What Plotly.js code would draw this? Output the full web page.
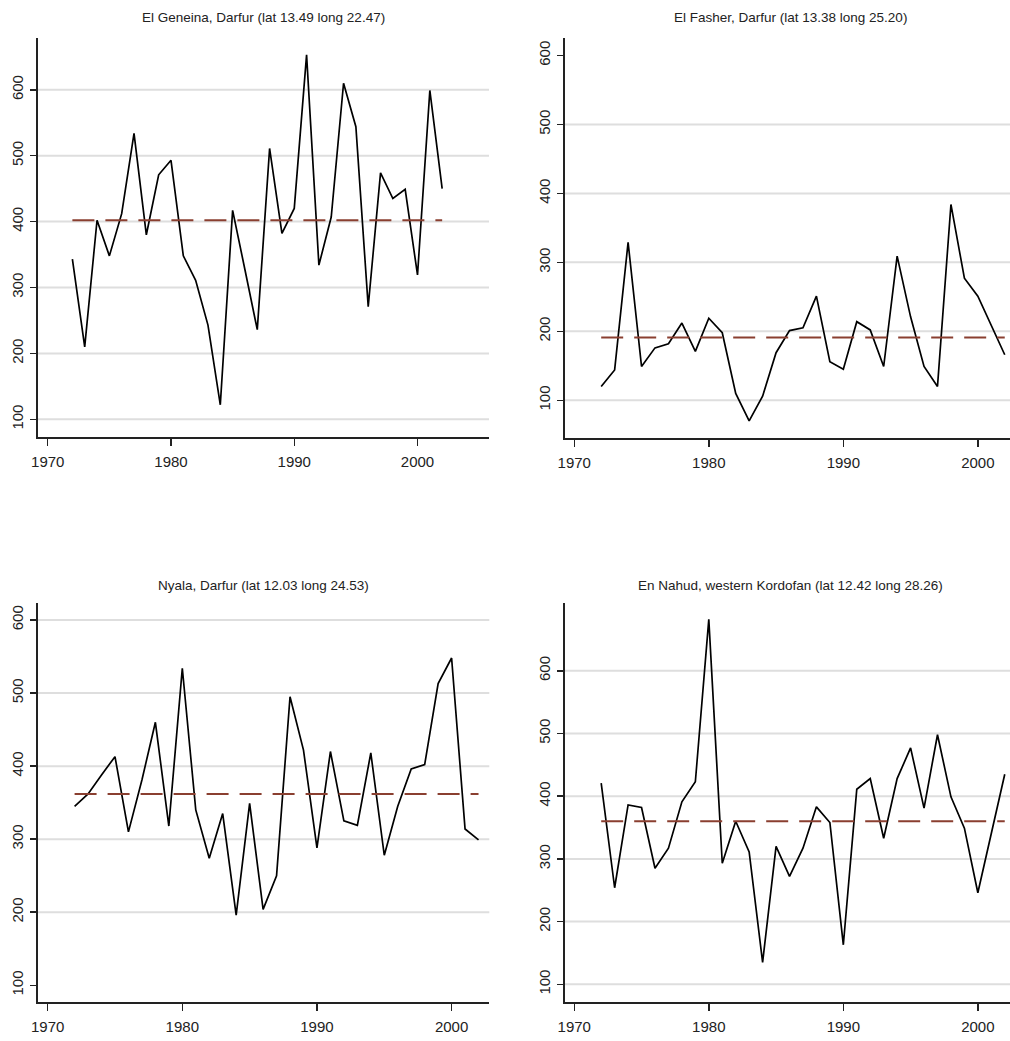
<!DOCTYPE html>
<html>
<head>
<meta charset="utf-8">
<script src="https://cdn.plot.ly/plotly-3.0.1.min.js"></script>
<style>
  html, body { margin: 0; padding: 0; background: #fff; }
  #chart { width: 1010px; height: 1041px; }
</style>
</head>
<body>
<div id="chart"></div>
<script>
// ---- data ----
const years = [1972,1973,1974,1975,1976,1977,1978,1979,1980,1981,1982,1983,1984,1985,1986,1987,
               1988,1989,1990,1991,1992,1993,1994,1995,1996,1997,1998,1999,2000,2001,2002];

const titles = [
  "El Geneina, Darfur (lat 13.49 long 22.47)",
  "El Fasher, Darfur (lat 13.38 long 25.20)",
  "Nyala, Darfur (lat 12.03 long 24.53)",
  "En Nahud, western Kordofan (lat 12.42 long 28.26)"
];

const elGeneina = [343,210,402,348,412,534,380,471,493,348,311,243,122,417,327,236,
                   511,382,420,653,334,407,610,544,271,474,435,449,319,599,450];
const elFasher  = [120,144,329,149,176,182,212,171,219,198,110,70,106,169,201,205,
                   251,156,145,214,202,149,309,221,149,120,384,277,251,209,166];
const nyala     = [345,362,388,413,310,381,460,318,534,340,274,335,196,349,204,250,
                   495,422,288,420,325,319,418,278,345,396,402,513,548,314,299];
const enNahud   = [421,254,386,382,285,317,391,423,682,293,360,311,135,320,272,317,
                   383,358,163,411,428,333,428,477,381,498,399,349,246,343,435];

const means = [402, 191, 362, 360];

const xTicks = [1970, 1980, 1990, 2000];
const yTicks = [100, 200, 300, 400, 500, 600];

// ---- layout geometry (pixels) ----
const W = 1010, H = 1041;
const panels = [
  {l: 38,  r: 489,  t: 38,   b: 436.7, xr: [1969.21, 2005.8], yr: [73.6, 678.6],  grid: [100,200,300,400,500,600], tx: 263, ty: 18},
  {l: 565, r: 1010, t: 38.3, b: 437.7, xr: [1969.31, 2002.39], yr: [45.7, 625],   grid: [100,200,300,400,500],     tx: 790, ty: 18},
  {l: 37.7,r: 489.3,t: 603.3,b: 1002.3, xr: [1969.26, 2002.8], yr: [76.7, 622.9], grid: [200,300,400,500,600],     tx: 263, ty: 585},
  {l: 565, r: 1010, t: 603.3,b: 1002.3, xr: [1969.31, 2002.39], yr: [71.3, 707.6], grid: [100,200,300,400,500,600], tx: 790, ty: 585}
];
const series = [elGeneina, elFasher, nyala, enNahud];

const traces = [];
const layout = {
  width: W, height: H,
  margin: {l: 0, r: 0, t: 0, b: 0, pad: 0},
  paper_bgcolor: '#ffffff',
  plot_bgcolor: '#ffffff',
  showlegend: false,
  shapes: [],
  annotations: []
};

const sans = "'Liberation Sans', Arial, sans-serif";

panels.forEach((p, i) => {
  const n = i === 0 ? '' : String(i + 1);
  const xa = 'x' + n, ya = 'y' + n;
  traces.push({
    x: years, y: series[i], xaxis: xa, yaxis: ya,
    type: 'scatter', mode: 'lines',
    line: {color: '#000000', width: 1.7},
    hoverinfo: 'skip'
  });
  traces.push({
    x: [years[0], years[years.length - 1]], y: [means[i], means[i]],
    xaxis: xa, yaxis: ya, type: 'scatter', mode: 'lines',
    line: {color: '#8a3f30', width: 2, dash: '22px,11px'},
    hoverinfo: 'skip'
  });
  layout['xaxis' + n] = {
    domain: [p.l / W, p.r / W],
    range: p.xr,
    anchor: ya,
    tickvals: xTicks,
    ticktext: xTicks.map(String),
    ticks: 'outside', ticklen: 7, tickwidth: 1.5, tickcolor: '#222',
    showline: true, linecolor: '#222', linewidth: 2,
    showgrid: false, zeroline: false,
    tickfont: {family: sans, size: 15, color: '#222'},
    ticklabelstandoff: 3,
    fixedrange: true
  };
  layout['yaxis' + n] = {
    domain: [1 - p.b / H, 1 - p.t / H],
    range: p.yr,
    anchor: xa,
    tickvals: yTicks,
    ticktext: yTicks.map(String),
    tickangle: -90,
    ticks: 'outside', ticklen: 6, tickwidth: 1.5, tickcolor: '#222',
    showline: true, linecolor: '#222', linewidth: 2,
    showgrid: false, zeroline: false,
    tickfont: {family: sans, size: 15, color: '#222'},
    ticklabelstandoff: 1,
    fixedrange: true
  };
  p.grid.forEach(g => {
    layout.shapes.push({
      type: 'line', layer: 'below',
      xref: xa + ' domain', yref: ya,
      x0: 0, x1: 1, y0: g, y1: g,
      line: {color: '#dedede', width: 2}
    });
  });
  layout.annotations.push({
    text: titles[i], xref: 'paper', yref: 'paper',
    x: p.tx / W, y: 1 - p.ty / H, xanchor: 'center', yanchor: 'middle',
    showarrow: false,
    font: {family: sans, size: 13.5, color: '#222'}
  });
});

Plotly.newPlot('chart', traces, layout, {displayModeBar: false, staticPlot: true});
</script>
</body>
</html>
